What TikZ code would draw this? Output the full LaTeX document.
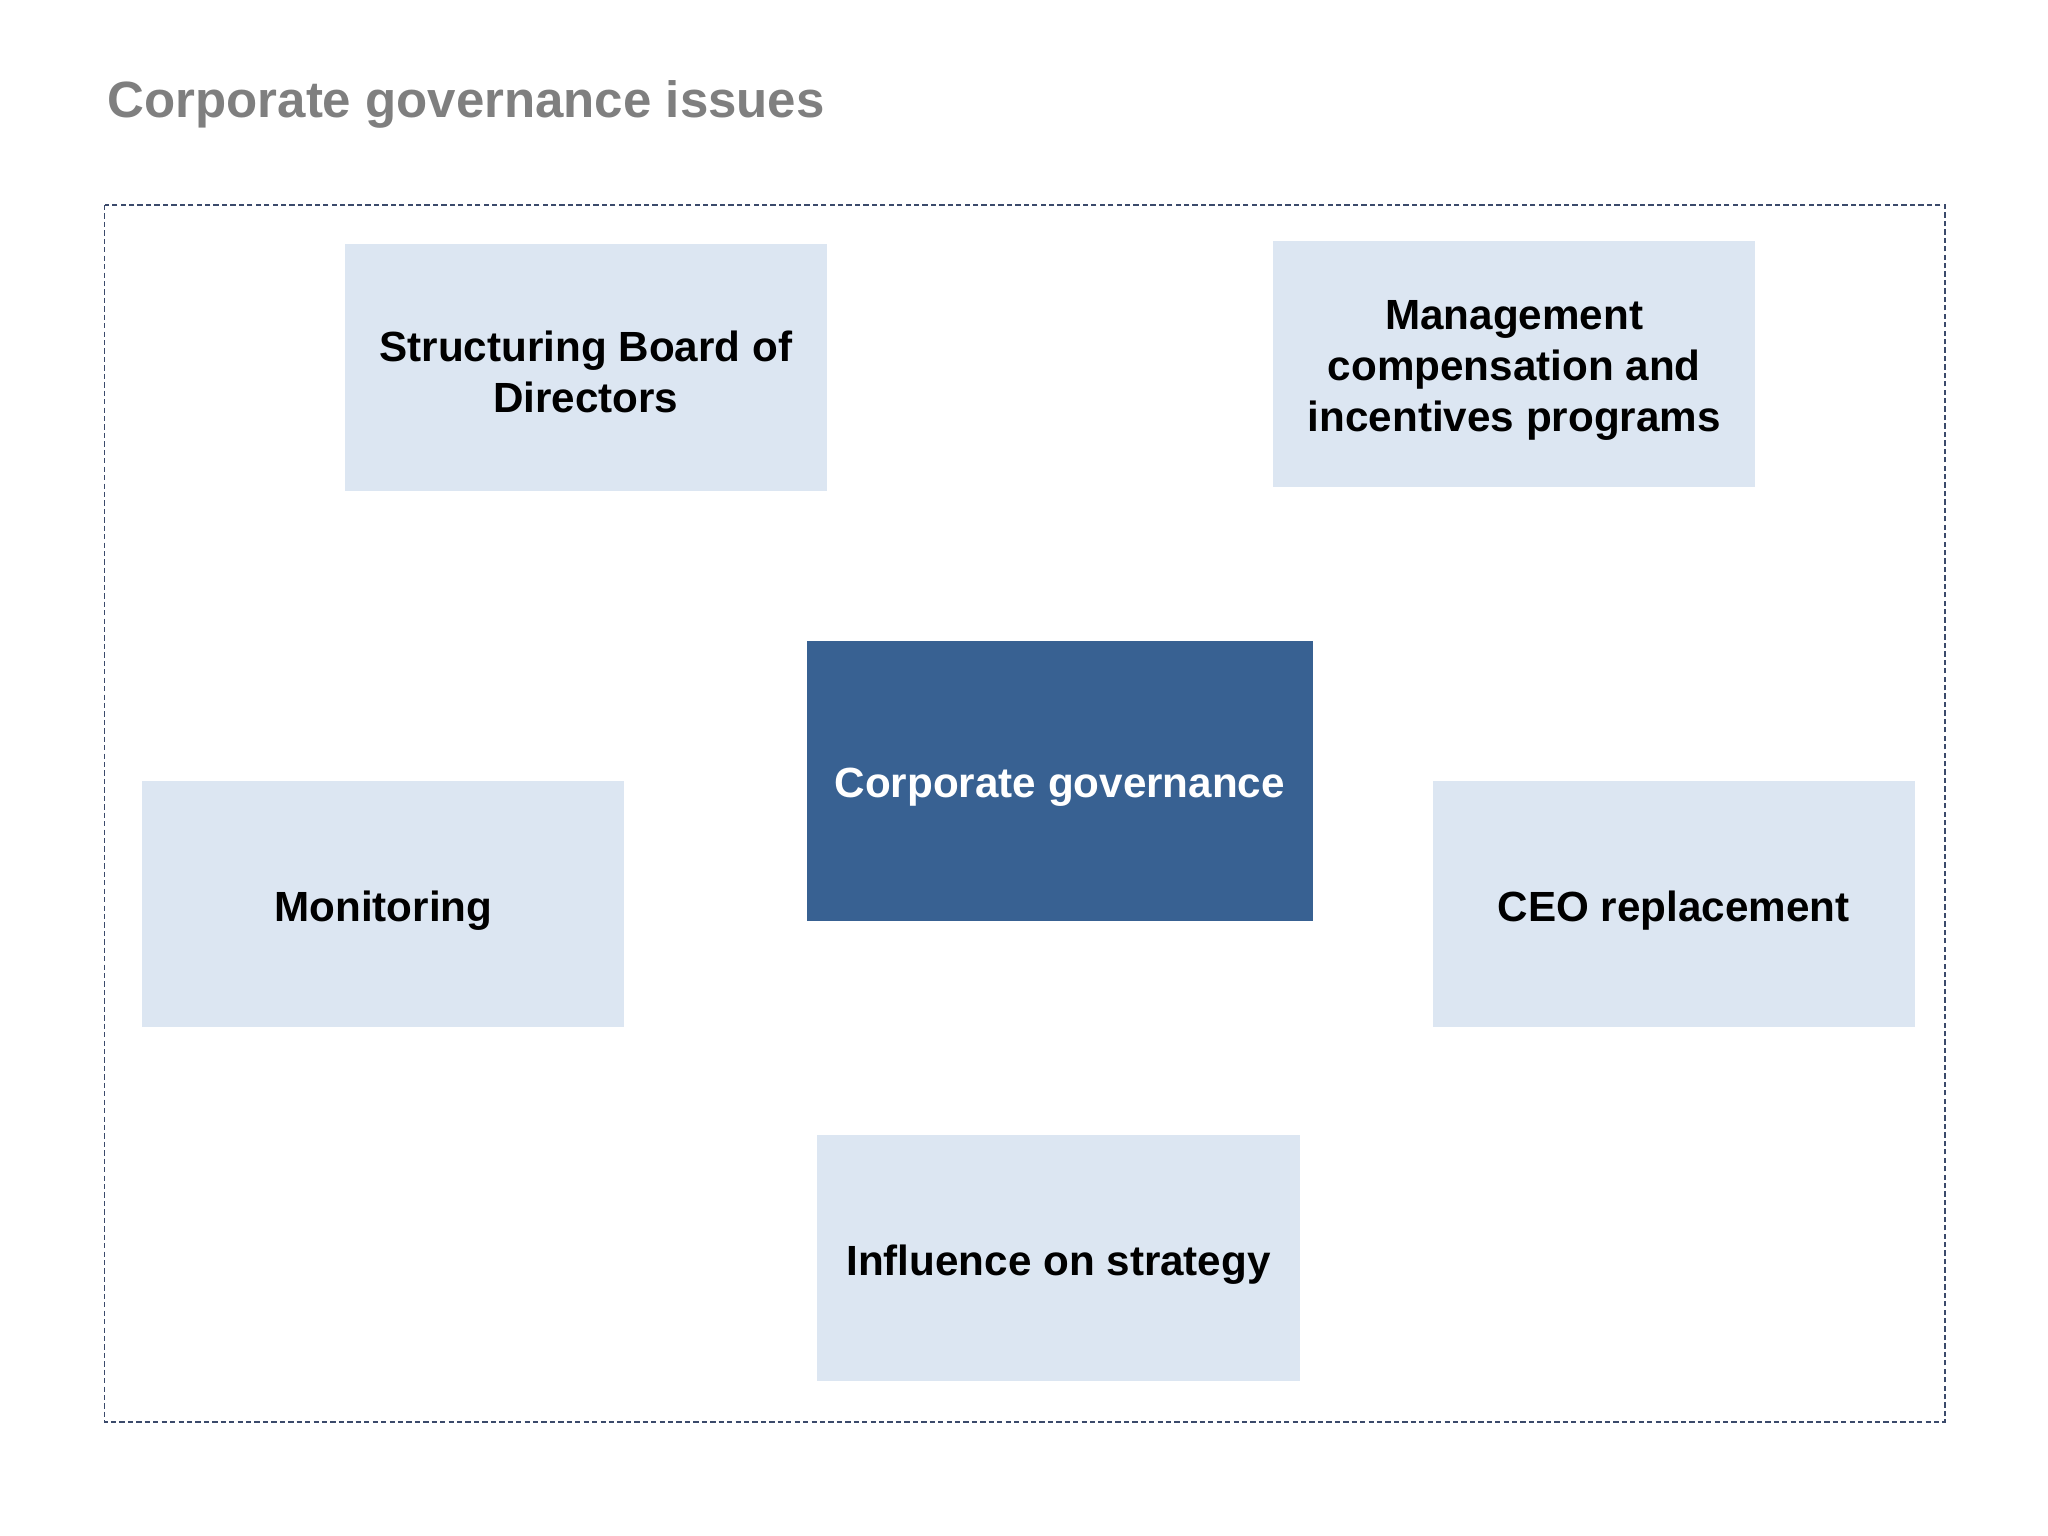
\documentclass[tikz,border=0pt]{standalone}
\usepackage{fontspec}
\setmainfont{Liberation Sans}
\definecolor{lightbox}{HTML}{DCE6F2}
\definecolor{darkbox}{HTML}{386192}
\definecolor{framecol}{HTML}{3B4A6B}
\definecolor{titlegray}{HTML}{7F7F7F}
\begin{document}
\begin{tikzpicture}[x=0.01cm,y=-0.01cm,
  issue/.style={rectangle,fill=lightbox,draw=none,inner sep=0pt,
    minimum width=4.82cm,minimum height=2.46cm},
  core/.style={rectangle,fill=darkbox,draw=none,inner sep=0pt,
    minimum width=5.06cm,minimum height=2.80cm},
  issuetext/.style={inner sep=0pt,align=center,
    font=\fontsize{12}{14.5}\selectfont\bfseries,text=black},
  coretext/.style={issuetext,text=white},
  framebox/.style={draw=framecol,line width=0.5pt,dash pattern=on 1.5pt off 0.9pt}]
\useasboundingbox[fill=white] (0,0) rectangle (2048,1536);
\node[anchor=base west,inner sep=0pt,text=titlegray,font=\fontsize{14.5}{17}\selectfont\bfseries] (title) at (107,117.5) {Corporate governance issues};
\draw[framebox] (104.5,205) rectangle (1944.7,1422.3);
\node[issue,minimum height=2.47cm] (board) at (585.8,367.6) {};
\node[issuetext] (boardt) at ([yshift=-0.045cm]board.center) {Structuring Board of\\Directors};
\node[issue] (mgmt) at (1514.3,364.4) {};
\node[issuetext] (mgmtt) at ([yshift=-0.065cm]mgmt.center) {Management\\compensation and\\incentives programs};
\node[core] (cg) at (1059.8,781) {};
\node[coretext] (cgt) at ([yshift=-0.065cm]cg.center) {Corporate governance};
\node[issue] (mon) at (383.3,903.8) {};
\node[issuetext] (mont) at ([yshift=-0.065cm]mon.center) {Monitoring};
\node[issue] (ceo) at (1673.7,903.8) {};
\node[issuetext] (ceot) at ([yshift=-0.065cm]ceo.center) {CEO replacement};
\node[issue] (infl) at (1058.5,1257.7) {};
\node[issuetext] (inflt) at ([yshift=-0.065cm]infl.center) {Influence on strategy};
\end{tikzpicture}
\end{document}
